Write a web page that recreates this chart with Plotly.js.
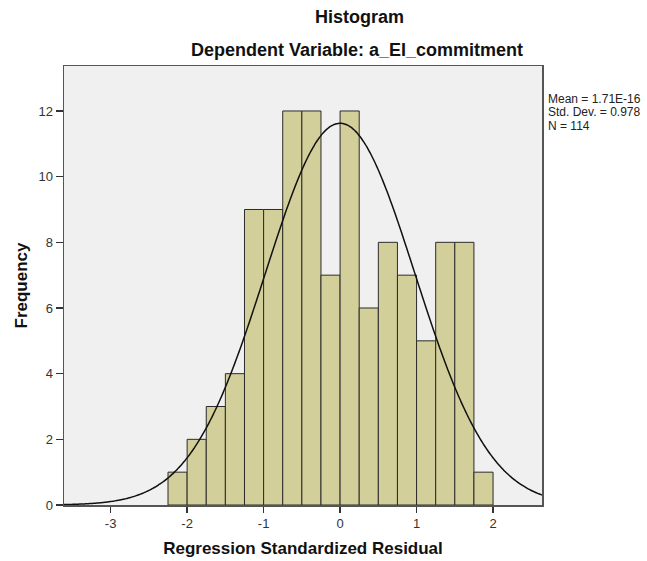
<!DOCTYPE html>
<html>
<head>
<meta charset="utf-8">
<script src="https://cdn.plot.ly/plotly-3.0.1.min.js"></script>
<style>html,body{margin:0;padding:0;background:#fff;}#chart{width:647px;height:561px;}</style>
</head>
<body>
<div id="chart"></div>
<script>
// Histogram bins (left edges) and counts
const binStarts = [-2.25, -2.0, -1.75, -1.5, -1.25, -1.0, -0.75, -0.5, -0.25, 0.0, 0.25, 0.5, 0.75, 1.0, 1.25, 1.5, 1.75];
const counts    = [1, 2, 3, 4, 9, 9, 12, 12, 7, 12, 6, 8, 7, 5, 8, 8, 1];
const binWidth = 0.25;
// Summary statistics shown on the chart
const statMean = 1.71e-16;
const statSD = 0.978;
const statN = 114;
const statLabels = ["Mean = 1.71E-16", "Std. Dev. = 0.978", "N = 114"];
const xTicks = [-3, -2, -1, 0, 1, 2];
const yTicks = [0, 2, 4, 6, 8, 10, 12];

const centers = binStarts.map(s => s + binWidth / 2);

// Fitted normal curve from the stated mean / SD / N
const xMin = -3.61, xMax = 2.64;
const curveX = [], curveY = [];
for (let i = 0; i <= 300; i++) {
  const x = xMin + (xMax - xMin) * i / 300;
  const z = (x - statMean) / statSD;
  curveX.push(x);
  curveY.push(statN * binWidth * Math.exp(-0.5 * z * z) / (statSD * Math.sqrt(2 * Math.PI)));
}

const font = "Liberation Sans, Arial, Helvetica, sans-serif";
const plotH = 439, plotW = 478, mL = 64, mT = 66;
const px2x = p => (p - mL) / plotW;
const py2y = p => 1 - (p - mT) / plotH;

const annotations = [
  {xref: 'paper', yref: 'paper', x: px2x(359), y: py2y(17), xanchor: 'center', yanchor: 'middle',
   text: '<b>Histogram</b>', showarrow: false, font: {size: 18, color: '#111', family: font}},
  {xref: 'paper', yref: 'paper', x: px2x(357), y: py2y(50), xanchor: 'center', yanchor: 'middle',
   text: '<b>Dependent Variable: a_EI_commitment</b>', showarrow: false, font: {size: 18, color: '#111', family: font}}
];
statLabels.forEach((t, i) => {
  annotations.push({xref: 'paper', yref: 'paper', x: px2x(547), y: py2y(98.5 + i * 13.9), xanchor: 'left', yanchor: 'middle',
    align: 'left', text: t, showarrow: false, borderpad: 0, font: {size: 12, color: '#222', family: font}});
});

const traces = [
  {
    type: 'bar', x: centers, y: counts, width: binWidth,
    marker: {color: '#D3CF9A', line: {color: '#2b2b2b', width: 1}},
    hoverinfo: 'x+y'
  },
  {
    type: 'scatter', mode: 'lines', x: curveX, y: curveY,
    line: {color: '#111', width: 1.5, shape: 'spline'},
    hoverinfo: 'skip'
  }
];

const layout = {
  width: 647, height: 561,
  margin: {l: 64, r: 105, t: 66, b: 56},
  paper_bgcolor: '#ffffff',
  plot_bgcolor: '#F0F0F0',
  showlegend: false,
  font: {family: font, color: '#222'},
  bargap: 0,
  xaxis: {
    range: [xMin, xMax], tickvals: xTicks, ticktext: xTicks.map(String),
    ticks: 'outside', ticklen: 6, tickcolor: '#333', tickwidth: 1.5,
    showline: true, linecolor: '#555', linewidth: 1.5, mirror: true,
    showgrid: false, zeroline: false,
    tickfont: {size: 13, color: '#333', family: font},
    title: {text: 'Regression Standardized Residual', font: {size: 17, color: '#111', family: font, weight: 'bold'}, standoff: 12}
  },
  yaxis: {
    range: [0, 13.37], tickvals: yTicks, ticktext: yTicks.map(String),
    ticks: 'outside', ticklen: 7, tickcolor: '#333', tickwidth: 1.5,
    showline: true, linecolor: '#555', linewidth: 1.5, mirror: true,
    showgrid: false, zeroline: false,
    tickfont: {size: 13, color: '#333', family: font},
    title: {text: 'Frequency', font: {size: 17, color: '#111', family: font, weight: 'bold'}, standoff: 6}
  },
  annotations: annotations
};

Plotly.newPlot('chart', traces, layout, {displayModeBar: false, staticPlot: true});
</script>
</body>
</html>
